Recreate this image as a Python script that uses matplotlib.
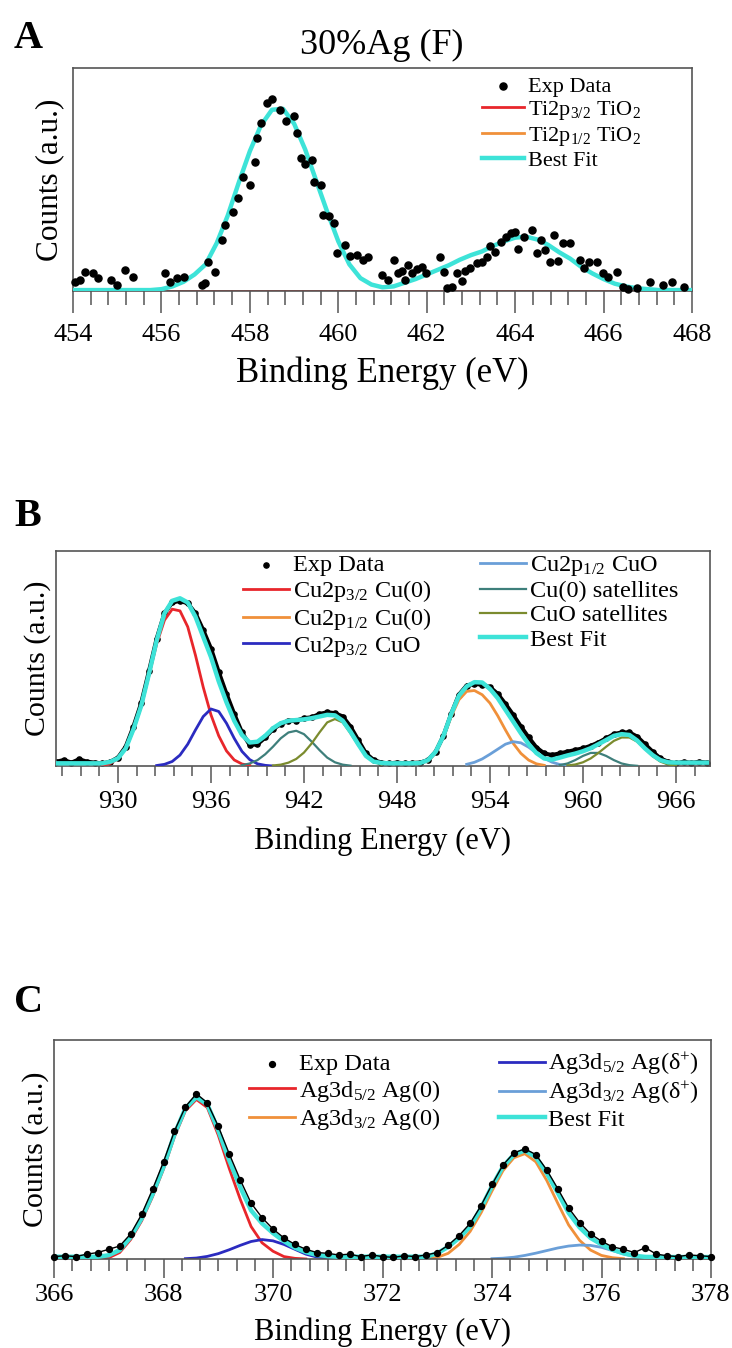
import numpy as np
import matplotlib
matplotlib.use('Agg')
import matplotlib.pyplot as plt
from matplotlib.ticker import MultipleLocator

plt.rcParams['font.family'] = ['Liberation Serif', 'DejaVu Serif']
plt.rcParams['mathtext.fontset'] = 'custom'
plt.rcParams['mathtext.rm'] = 'Liberation Serif'
plt.rcParams['mathtext.it'] = 'Liberation Serif:italic'

# ---------------- panel A : Ti2p ----------------
a_exp_x = [454.05, 454.16, 454.27, 454.46, 454.57, 454.87, 454.99, 455.18, 455.36,
           456.08, 456.19, 456.35, 456.50, 456.91, 456.99, 457.06, 457.21,
           457.36, 457.44, 457.63, 457.74, 457.85, 458.00, 458.12, 458.16, 458.25,
           458.38, 458.49, 458.68, 458.82, 459.00, 459.06, 459.15, 459.25, 459.40,
           459.45, 459.60, 459.65, 459.80, 459.90, 459.96, 460.15, 460.27, 460.43,
           460.57, 460.68, 460.98, 461.13,
           461.25, 461.36, 461.43, 461.51, 461.58, 461.66, 461.77, 461.89, 461.98,
           462.30, 462.39, 462.45, 462.57, 462.68, 462.79, 462.87, 462.98,
           463.13, 463.24, 463.36, 463.43, 463.55, 463.67, 463.79, 463.90,
           464.00, 464.07, 464.20, 464.37, 464.49, 464.58, 464.68, 464.79, 464.87, 464.96,
           465.08, 465.24, 465.47, 465.56, 465.68, 465.86, 465.98,
           466.11, 466.30, 466.45, 466.56, 466.75, 467.05, 467.35, 467.54, 467.82]
a_exp_y = [5.1, 6.0, 10.5, 9.6, 6.9, 6.0, 3.3, 11.4, 7.8,
           9.6, 5.1, 6.9, 7.8, 3.3, 4.5, 15.9, 10.5,
           27.7, 35.9, 43.1, 50.4, 62.1, 57.6, 70.3, 83.0, 91.1,
           102.3, 104.2, 98.4, 92.6, 95.1, 85.7, 72.1, 69.0, 71.2,
           59.4, 57.6, 41.3, 40.8, 36.8, 20.5, 25.0, 19.0, 19.6,
           16.8, 18.6, 8.7, 6.0,
           16.8, 9.6, 11.1, 6.0, 14.1, 9.6, 11.8, 12.9, 9.6,
           18.6, 10.5, 1.4, 2.4, 9.6, 5.6, 11.1, 12.3,
           15.0, 15.9, 18.6, 24.5, 21.4, 26.8, 29.5, 31.7,
           32.2, 22.6, 29.5, 33.2, 20.5, 27.7, 22.3, 15.9, 30.4, 16.5,
           25.9, 25.9, 16.8, 12.3, 15.9, 15.9, 9.6,
           7.8, 10.5, 2.4, 0.9, 1.4, 5.1, 3.3, 5.1, 2.4]

a_fit_x = np.round(np.arange(454.0, 468.01, 0.25), 2)
a_fit_y = [0.5, 0.5, 0.5, 0.5, 0.5, 0.5, 0.5, 0.5,
           1, 2.5, 5, 9, 14.5, 26, 41, 59,
           76, 90, 98.5, 99, 91, 77, 60, 43,
           27, 14.5, 7, 3.5, 2, 2.5, 4.5, 6.5,
           9, 11.5, 14, 17, 19.5, 21.5, 24.5, 27,
           29, 29.5, 28, 25, 21, 17.5, 13, 9.5,
           6.5, 4, 2.5, 1.5, 1, 0.5, 0.5, 0.5,
           0.5]
# the two Ti components sit on the baseline in the figure
a_comp_x = [454.0, 468.0]
a_ti32_y = [0, 0]
a_ti12_y = [0, 0]

# ---------------- panel B : Cu2p ----------------
b_x = np.round(np.arange(926.0, 968.01, 0.5), 2)
b_exp = [2.5, 3.5, 2.0, 4.0, 2.5, 2.0, 1.5, 2.5,
         5.0, 11.5, 23.5, 37.5, 56.5, 76, 91, 97.5,
         98.5, 97, 91, 81, 70, 56, 43, 31,
         20, 12.5, 13, 17, 22, 25, 27, 27,
         28.5, 29, 31, 32, 31.5, 29.5, 23.5, 15.5,
         7.5, 3.5, 2, 1.5, 2, 1.5, 1.8, 2,
         3.5, 8.5, 18, 31, 42.5, 48, 49, 48.5,
         47, 43, 37, 30.5, 23.5, 17, 11, 7.5,
         6.5, 7.5, 8.5, 9.5, 10.5, 12, 14, 16.5,
         19, 20, 20, 17.5, 13, 8.5, 4.5, 2.5,
         1.5, 2.5, 1.8, 2.5, 2]
b_fit = [1.6, 1.6, 1.6, 1.6, 1.6, 1.6, 1.6, 2.5,
         4.6, 10.5, 22, 36, 55, 75, 91, 98.5,
         100, 97.5, 89, 77, 65, 50.5, 38, 27,
         18.5, 14, 14.5, 18, 22.5, 25.5, 27, 27.4,
         27.8, 28.5, 29.5, 30.5, 30.2, 27, 20.5, 13,
         6, 2.6, 1.8, 1.6, 1.6, 1.6, 1.6, 1.8,
         3.5, 8.5, 18, 31, 42, 47.5, 50, 49.8,
         46, 40.5, 33.5, 26.5, 19.5, 13, 7.7, 4.5,
         3.8, 5, 6.3, 7.4, 8.8, 10.6, 13, 15.5,
         18, 19, 18.5, 15.2, 10.5, 6.5, 3.5, 2.2,
         2, 2, 2, 2, 2]

b_cu0_32_x = np.round(np.arange(929.0, 938.51, 0.5), 2)
b_cu0_32 = [0.3, 1.5, 4.5, 10.5, 21.5, 35.5, 54, 73, 87, 93.5,
            92.5, 83, 66, 47, 30.5, 18, 9, 3.6, 1.2, 0.3]
b_cu0_12_x = np.round(np.arange(950.0, 957.51, 0.5), 2)
b_cu0_12 = [3, 8, 17.5, 29.5, 39.5, 44.5, 45, 42.5, 37.5, 30, 21.5, 13.5, 7.5, 3.5, 1.3, 0.4]
b_cuo_32_x = np.round(np.arange(932.5, 940.01, 0.5), 2)
b_cuo_32 = [0.3, 1, 2.7, 6.5, 13, 21.5, 29.5, 34, 32.5, 25.5, 16.5, 8.7, 3.8, 1.3, 0.4, 0]
b_cuo_12_x = np.round(np.arange(952.5, 959.01, 0.5), 2)
b_cuo_12 = [1, 2.2, 4.2, 7, 10, 13, 14.5, 13.8, 11.2, 7.8, 4.6, 2.3, 0.9, 0.3]
b_sat_cu0_x1 = np.round(np.arange(938.0, 945.01, 0.5), 2)
b_sat_cu0_1 = [0.5, 1.5, 3.5, 7, 11.5, 16.5, 20, 21, 19, 14.5, 9.5, 5, 2.2, 0.8, 0.2]
b_sat_cu0_x2 = np.round(np.arange(958.5, 963.51, 0.5), 2)
b_sat_cu0_2 = [0.5, 1.5, 3.5, 6, 7.8, 7.8, 6, 3.5, 1.5, 0.5, 0.1]
b_sat_cuo_x1 = np.round(np.arange(940.0, 947.01, 0.5), 2)
b_sat_cuo_1 = [0.3, 0.8, 2, 4.2, 8, 13.5, 20, 26, 28, 26, 19.5, 12.5, 6, 2.5, 0.8]
b_sat_cuo_x2 = np.round(np.arange(959.0, 966.01, 0.5), 2)
b_sat_cuo_2 = [0.3, 0.9, 2.2, 4.5, 7.8, 11.5, 15, 17, 17, 14.5, 10.2, 5.8, 2.6, 0.9, 0.2]

# ---------------- panel C : Ag3d ----------------
c_x = np.round(np.arange(366.0, 378.01, 0.2), 2)
c_exp = [1.5, 2, 1.5, 3, 4, 6, 8, 15.5, 27.5, 43,
         60, 79, 94, 102, 96.5, 82, 65, 49, 34.5, 25.5,
         18.5, 13, 9, 6, 4, 3.5, 2.5, 3, 1.5, 2.5,
         1.5, 1, 2, 1.5, 2.5, 4, 8.5, 14.5, 22, 33,
         46, 58, 65.5, 68, 64.5, 55, 43.5, 31.5, 22.5, 15.5,
         11, 7.5, 6, 4, 7, 3, 2, 1.5, 2.5, 2,
         1.5]
c_fit = [1.4, 1.4, 1.4, 1.4, 1.4, 2.3, 5.5, 13.5, 25, 40,
         57, 77, 93, 100, 95.5, 79.5, 61, 44.5, 30, 22,
         16, 11, 7, 4.3, 2.5, 1.8, 1.4, 1.4, 1.4, 1.4,
         1.4, 1.4, 1.4, 1.4, 1.4, 3.5, 7.5, 13, 20, 31.5,
         45, 57, 64.5, 67, 63, 53, 41, 28.5, 19.5, 13,
         9, 5.8, 3.5, 2, 1.3, 1.2, 1.2, 1.2, 1.2, 1.2,
         1.2]
c_ag0_52_x = np.round(np.arange(366.6, 370.61, 0.2), 2)
c_ag0_52 = [0.1, 0.3, 0.8, 4, 12, 23.5, 38.5, 55.5, 75.5, 91.5, 98.5,
            93.5, 76.5, 56, 37, 20, 10, 4.8, 1.5, 0.4, 0]
c_ag0_32_x = np.round(np.arange(372.8, 376.41, 0.2), 2)
c_ag0_32 = [0.2, 1, 3.5, 9, 17, 28.5, 42, 54.5, 62.5, 65,
            60, 48.5, 34.5, 21, 11.5, 5.5, 2.2, 0.8, 0.2]
c_agd_52_x = np.round(np.arange(368.4, 371.21, 0.2), 2)
c_agd_52 = [0.2, 0.6, 1.6, 3.3, 5.7, 8.4, 10.8, 12, 11.2, 9, 6, 3, 1.2, 0.4, 0.1]
c_agd_32_x = np.round(np.arange(374.0, 377.01, 0.2), 2)
c_agd_32 = [0.2, 0.5, 1.1, 2.2, 3.6, 5.2, 6.8, 8, 8.6, 8.4, 7.2, 5.2, 3.2, 1.6, 0.6, 0.2]

RED = '#e8262b'
ORANGE = '#f0903a'
BLUE = '#2b2bc0'
LBLUE = '#6a9fd8'
TEAL = '#3e7f7b'
OLIVE = '#7b8b2e'
CYAN = '#3de3d8'
EDGE = '#555555'

W, H = 732, 1348
fig = plt.figure(figsize=(W / 100, H / 100), dpi=100)


def make_axes(l, t, r, b):
    return fig.add_axes([l / W, 1 - b / H, (r - l) / W, (b - t) / H])


def style(ax, xlim, ylim, major, minor, ticklen, pad, xfs, xpad, yfs, ypad):
    ax.set_xlim(*xlim)
    ax.set_ylim(*ylim)
    ax.set_yticks([])
    ax.xaxis.set_major_locator(MultipleLocator(major))
    ax.xaxis.set_minor_locator(MultipleLocator(minor))
    ax.tick_params(axis='x', which='major', direction='out', length=ticklen[0], width=1.1,
                   color=EDGE, labelsize=19, pad=pad)
    ax.tick_params(axis='x', which='minor', direction='out', length=ticklen[1], width=1.1,
                   color=EDGE)
    for s in ax.spines.values():
        s.set_color(EDGE)
        s.set_linewidth(1.2)
    ax.set_xlabel('Binding Energy (eV)', fontsize=xfs, labelpad=xpad)
    ax.set_ylabel('Counts (a.u.)', fontsize=yfs, labelpad=ypad)


leg_kw = dict(loc='upper left', frameon=False, borderpad=0, borderaxespad=0,
              handlelength=1.9, handletextpad=0.15)

# ---- A
ax = make_axes(73, 68, 692, 291)
ax.plot(a_comp_x, a_ti12_y, color=ORANGE, lw=2, label='Ti2p$_{1/2}$ TiO$_2$')
ax.plot(a_comp_x, a_ti32_y, color=RED, lw=2, label='Ti2p$_{3/2}$ TiO$_2$')
ax.plot(a_fit_x, a_fit_y, color=CYAN, lw=3.2, label='Best Fit', zorder=3)
ax.scatter(a_exp_x, a_exp_y, s=26, color='black', label='Exp Data', zorder=4, clip_on=False)
style(ax, (454, 468), (0, 121.2), 2, 0.4, (16, 10), 7.5, 25, 8, 22.5, 6)
h, l = ax.get_legend_handles_labels()
order = [3, 1, 0, 2]
ax.legend([h[i] for i in order], [l[i] for i in order], bbox_to_anchor=(0.661, 0.964),
          fontsize=16, labelspacing=0.12, **leg_kw)
fig.text(14 / W, 1 - 38 / H, 'A', fontsize=29, fontweight='bold', va='center')
fig.text(382 / W, 1 - 45 / H, '30%Ag (F)', fontsize=26, ha='center', va='center')

# ---- B
ax = make_axes(56, 551, 710, 766)
ax.plot(b_x, b_exp, color='black', lw=3, zorder=2)
ax.scatter(b_x, b_exp, s=14, color='black', zorder=2, label='Exp Data')
ax.plot(b_cu0_32_x, b_cu0_32, color=RED, lw=2, label='Cu2p$_{3/2}$ Cu(0)', zorder=3)
ax.plot(b_cu0_12_x, b_cu0_12, color=ORANGE, lw=2, label='Cu2p$_{1/2}$ Cu(0)', zorder=3)
ax.plot(b_cuo_32_x, b_cuo_32, color=BLUE, lw=2, label='Cu2p$_{3/2}$ CuO', zorder=3)
ax.plot(b_cuo_12_x, b_cuo_12, color=LBLUE, lw=2, label='Cu2p$_{1/2}$ CuO', zorder=3)
ax.plot(b_sat_cu0_x1, b_sat_cu0_1, color=TEAL, lw=1.6, label='Cu(0) satellites', zorder=3)
ax.plot(b_sat_cu0_x2, b_sat_cu0_2, color=TEAL, lw=1.6, zorder=3)
ax.plot(b_sat_cuo_x1, b_sat_cuo_1, color=OLIVE, lw=1.6, label='CuO satellites', zorder=3)
ax.plot(b_sat_cuo_x2, b_sat_cuo_2, color=OLIVE, lw=1.6, zorder=3)
ax.plot(b_x, b_fit, color=CYAN, lw=3.2, label='Best Fit', zorder=4)
style(ax, (926.0, 968.2), (0, 128.2), 6, 1.2, (12.5, 7), 5.5, 22, 10, 21.5, 3.5)
ax.legend(bbox_to_anchor=(0.286, 0.986), ncol=2, fontsize=17.5, labelspacing=0.09,
          columnspacing=2.0, **leg_kw)
fig.text(14 / W, 1 - 516 / H, 'B', fontsize=29, fontweight='bold', va='center')

# ---- C
ax = make_axes(54, 1040, 711, 1259)
ax.plot(c_ag0_52_x, c_ag0_52, color=RED, lw=2, label='Ag3d$_{5/2}$ Ag(0)', zorder=2)
ax.plot(c_ag0_32_x, c_ag0_32, color=ORANGE, lw=2, label='Ag3d$_{3/2}$ Ag(0)', zorder=2)
ax.plot(c_agd_52_x, c_agd_52, color=BLUE, lw=2, label='Ag3d$_{5/2}$ Ag(δ$^{+}$)', zorder=2)
ax.plot(c_agd_32_x, c_agd_32, color=LBLUE, lw=2, label='Ag3d$_{3/2}$ Ag(δ$^{+}$)', zorder=2)
ax.plot(c_x, c_fit, color=CYAN, lw=3.2, label='Best Fit', zorder=3)
ax.plot(c_x, c_exp, color='black', lw=1.0, zorder=4)
ax.scatter(c_x, c_exp, s=18, color='black', zorder=4, label='Exp Data', clip_on=False)
style(ax, (366, 378), (0, 135.2), 2, 1 / 3, (14, 8.5), 4, 22, 8, 21.5, 3.5)
h, l = ax.get_legend_handles_labels()
order = [5, 0, 1, 2, 3, 4]
ax.legend([h[i] for i in order], [l[i] for i in order], bbox_to_anchor=(0.297, 0.950),
          ncol=2, fontsize=17.5, labelspacing=0.1, columnspacing=2.4, **leg_kw)
fig.text(14 / W, 1 - 1002 / H, 'C', fontsize=29, fontweight='bold', va='center')

fig.savefig('out.png', dpi=100)
